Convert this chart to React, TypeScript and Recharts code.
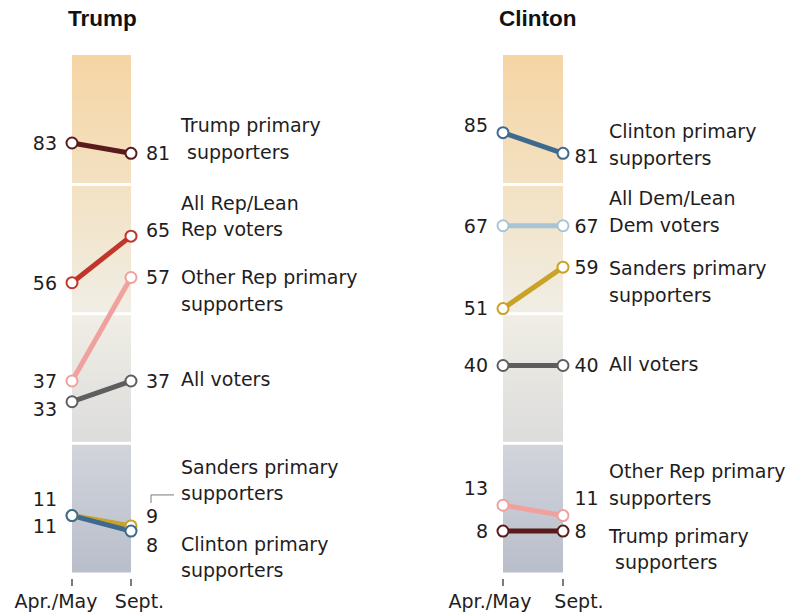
import { LineChart, Line, XAxis, YAxis, ReferenceArea, ReferenceLine, LabelList } from 'recharts';

const periods = ['Apr./May', 'Sept.'];

const trumpGroups = [
  'Trump primary\n supporters',
  'All Rep/Lean\nRep voters',
  'Other Rep primary\nsupporters',
  'All voters',
  'Sanders primary\nsupporters',
  'Clinton primary\nsupporters',
];
const trumpAprMay = [83, 56, 37, 33, 11, 11];
const trumpSept = [81, 65, 57, 37, 9, 8];

const clintonGroups = [
  'Clinton primary\nsupporters',
  'All Dem/Lean\nDem voters',
  'Sanders primary\nsupporters',
  'All voters',
  'Other Rep primary\nsupporters',
  'Trump primary\n supporters',
];
const clintonAprMay = [85, 67, 51, 40, 13, 8];
const clintonSept = [81, 67, 59, 40, 11, 8];

const trumpColors = ['#5a1b1d', '#c1362b', '#f0a19d', '#5e5e5e', '#c9a227', '#3e6a8f'];
const clintonColors = ['#3e6a8f', '#a9c4d5', '#c9a227', '#5e5e5e', '#f0a19d', '#5a1b1d'];

// label nudges (px) so numbers and names don't collide
const trumpNudge = {
  start: [0, 0, 0, 7, -16, 11],
  end: [0, -6, 0, 0, -10, 14],
  name: [-28, -33, 0, -2, -59, 13],
  leader: 4,
};
const clintonNudge = {
  start: [-7, 0, 0, 0, -17, 0],
  end: [3, 0, 0, 0, -17, 0],
  name: [-22, -27.5, 1, -1, -44, 5],
  leader: -1,
};

const FONT = "'DejaVu Sans', sans-serif";
const TITLE_FONT = "'Liberation Sans', Arial, sans-serif";
const INK = '#1f1d1e';

type PanelProps = {
  id: string;
  title: string;
  groups: string[];
  aprMay: number[];
  sept: number[];
  colors: string[];
  nudge: { start: number[]; end: number[]; name: number[]; leader: number };
  left: number;
  width: number;
  marginLeft: number;
  bandWidth: number;
  endGap: number;
  nameGap: number;
  tickDx: number[];
};

function Panel(p: PanelProps) {
  const data = periods.map((period, i) => {
    const row: Record<string, number | string> = { x: i, period };
    p.groups.forEach((_, k) => {
      row['s' + k] = i === 0 ? p.aprMay[k] : p.sept[k];
    });
    return row;
  });

  const renderLabel = (k: number) => (props: any) => {
    const x = props.x ?? props.viewBox?.x;
    const y = props.y ?? props.viewBox?.y;
    const { index, value } = props;
    if (x == null || y == null) return null;
    if (index === 0) {
      return (
        <text x={x - 15} y={y + p.nudge.start[k]} dy="0.36em" textAnchor="end" fontSize={19} fontFamily={FONT} fill={INK}>
          {value}
        </text>
      );
    }
    const lines = p.groups[k].split('\n');
    return (
      <g>
        <text x={x + p.endGap} y={y + p.nudge.end[k]} dy="0.36em" fontSize={19} fontFamily={FONT} fill={INK}>
          {value}
        </text>
        {lines.map((ln, j) => (
          <text
            key={j}
            x={x + p.nameGap}
            y={y + p.nudge.name[k] + j * 26.5}
            dy="0.36em"
            fontSize={19}
            fontFamily={FONT}
            fill={INK}
            style={{ whiteSpace: 'pre' }}
          >
            {ln}
          </text>
        ))}
        {p.nudge.leader === k && (
          <polyline
            points={`${x + 20},${y - 23} ${x + 20},${y - 31} ${x + 43},${y - 31}`}
            fill="none"
            stroke="#7a7a7a"
            strokeWidth={1}
          />
        )}
      </g>
    );
  };

  const PeriodTick = (props: any) => {
    const { x, y, payload } = props;
    const i = payload.value as number;
    return (
      <g>
        <line x1={x} x2={x} y1={y + 6.5} y2={y + 13.5} stroke="#444" strokeWidth={1.4} />
        <text x={x + p.tickDx[i]} y={y + 35.5} textAnchor="middle" fontSize={19} fontFamily={FONT} fill={INK}>
          {periods[i]}
        </text>
      </g>
    );
  };

  return (
    <div style={{ position: 'absolute', left: p.left, top: 0 }}>
      <div
        style={{
          position: 'absolute',
          left: p.marginLeft - 4,
          top: 8,
          fontFamily: TITLE_FONT,
          fontWeight: 'bold',
          fontSize: 22.5,
          lineHeight: '22.5px',
          color: '#111',
          whiteSpace: 'nowrap',
        }}
      >
        {p.title}
      </div>
      <LineChart
        width={p.width}
        height={613}
        data={data}
        margin={{ top: 55, right: p.width - p.marginLeft - p.bandWidth, bottom: 0.5, left: p.marginLeft }}
      >
        <defs>
          <linearGradient id={'band-' + p.id} x1="0" y1="0" x2="0" y2="1">
            <stop offset="0%" stopColor="#f6d5a4" />
            <stop offset="25%" stopColor="#f3e1c2" />
            <stop offset="50%" stopColor="#f0eee5" />
            <stop offset="74.5%" stopColor="#dcdcdc" />
            <stop offset="75.5%" stopColor="#d1d4db" />
            <stop offset="100%" stopColor="#b9becb" />
          </linearGradient>
        </defs>
        <XAxis
          dataKey="x"
          type="number"
          domain={[0, 1]}
          ticks={[0, 1]}
          axisLine={false}
          tickLine={false}
          tickSize={0}
          tickMargin={0}
          height={40}
          tick={<PeriodTick />}
          interval={0}
        />
        <YAxis hide type="number" domain={[0, 100]} />
        <ReferenceArea x1={0} x2={1} y1={0} y2={100} fill={`url(#band-${p.id})`} fillOpacity={1} stroke="none" />
        {[25, 50, 75].map((v) => (
          <ReferenceLine key={v} y={v} stroke="#ffffff" strokeWidth={3} />
        ))}
        {p.groups.map((g, k) => (
          <Line
            key={g}
            dataKey={'s' + k}
            stroke={p.colors[k]}
            strokeWidth={5}
            dot={{ r: 5.5, fill: '#ffffff', stroke: p.colors[k], strokeWidth: 2 }}
            activeDot={false}
            isAnimationActive={false}
          >
            <LabelList dataKey={'s' + k} content={renderLabel(k)} />
          </Line>
        ))}
      </LineChart>
    </div>
  );
}

export default function App() {
  return (
    <div style={{ position: 'absolute', left: 0, top: 0, width: 791, height: 613, background: '#fff' }}>
      <Panel
        id="trump"
        title="Trump"
        groups={trumpGroups}
        aprMay={trumpAprMay}
        sept={trumpSept}
        colors={trumpColors}
        nudge={trumpNudge}
        left={0}
        width={430}
        marginLeft={72}
        bandWidth={59}
        endGap={15}
        nameGap={50}
        tickDx={[-16, 8.5]}
      />
      <Panel
        id="clinton"
        title="Clinton"
        groups={clintonGroups}
        aprMay={clintonAprMay}
        sept={clintonSept}
        colors={clintonColors}
        nudge={clintonNudge}
        left={430}
        width={361}
        marginLeft={73}
        bandWidth={60}
        endGap={11.5}
        nameGap={46}
        tickDx={[-13, 16]}
      />
    </div>
  );
}
